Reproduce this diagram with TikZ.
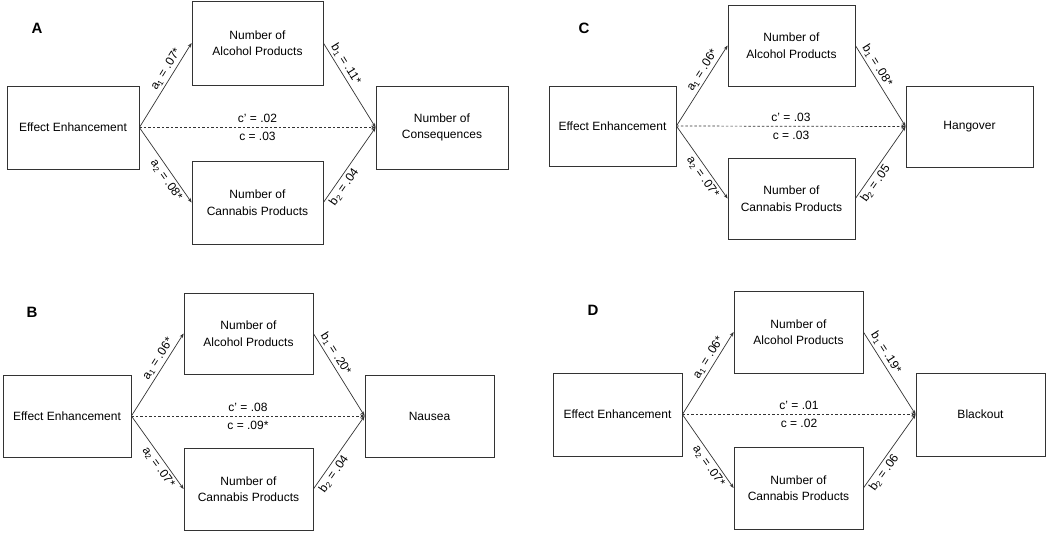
\documentclass[tikz,border=0pt]{standalone}
\usepackage{fontspec}
\setmainfont{Liberation Sans}
\usetikzlibrary{arrows.meta}
\tikzset{
  box/.style={draw=black!80, line width=0.8pt, inner sep=0pt, align=center,
    font=\fontsize{12}{16.5}\selectfont},
  arr/.style={draw=black!80, line width=0.7pt, -{Stealth[length=4.5pt,width=3.5pt]}},
  dline/.style={arr, dash pattern=on 2.5pt off 2pt},
  lbl/.style={font=\fontsize{12}{14}\selectfont, sloped, inner sep=2.5pt},
  clbl/.style={font=\fontsize{12}{14}\selectfont, inner sep=4.5pt},
  plabel/.style={font=\fontsize{15}{15}\selectfont\bfseries}
}
\begin{document}
\begin{tikzpicture}[x=1pt,y=-1pt]
\useasboundingbox (0,0) rectangle (1050,533);

% ---------- Panel A ----------
\node[plabel] (labA) at (37,28) {A};
\node[box, minimum width=132pt, minimum height=83pt] (aL) at (73,127.5) {Effect Enhancement};
\node[box, minimum width=131pt, minimum height=84pt] (aT) at (257.5,43) {Number of\\Alcohol Products};
\node[box, minimum width=131pt, minimum height=83pt] (aB) at (257.5,202.5) {Number of\\Cannabis Products};
\node[box, minimum width=132pt, minimum height=83pt] (aR) at (442,127.5) {Number of\\Consequences};
\draw[arr] (aL.east) -- node[lbl, above, pos=0.64] {a\textsubscript{1} = .07*} (aT.west);
\draw[arr] (aL.east) -- node[lbl, below, pos=0.64] {a\textsubscript{2} = .08*} (aB.west);
\draw[arr] (aT.east) -- node[lbl, above, pos=0.3] {b\textsubscript{1} = .11*} (aR.west);
\draw[arr] (aB.east) -- node[lbl, below, pos=0.27] {b\textsubscript{2} = .04} (aR.west);
\draw[dline] (aL.east) -- node[clbl, above] {c’ = .02} node[clbl, below] {c = .03} (aR.west);

% ---------- Panel C ----------
\node[plabel] (labC) at (584,28) {C};
\node[box, minimum width=127pt, minimum height=80pt] (cL) at (612.5,126) {Effect Enhancement};
\node[box, minimum width=127pt, minimum height=81pt] (cT) at (791.5,45.5) {Number of\\Alcohol Products};
\node[box, minimum width=127pt, minimum height=81pt] (cB) at (791.5,198.5) {Number of\\Cannabis Products};
\node[box, minimum width=127pt, minimum height=81pt] (cR) at (969.5,126.5) {Hangover};
\draw[arr] (cL.east) -- node[lbl, above, pos=0.64] {a\textsubscript{1} = .06*} (cT.west);
\draw[arr] (cL.east) -- node[lbl, below, pos=0.64] {a\textsubscript{2} = .07*} (cB.west);
\draw[arr] (cT.east) -- node[lbl, above, pos=0.3] {b\textsubscript{1} = .08*} (cR.west);
\draw[arr] (cB.east) -- node[lbl, below, pos=0.27] {b\textsubscript{2} = .05} (cR.west);
\draw[dline] (cL.east) -- node[clbl, above] {c’ = .03} node[clbl, below] {c = .03} (cR.west);

% ---------- Panel B ----------
\node[plabel] (labB) at (32,312) {B};
\node[box, minimum width=128pt, minimum height=82pt] (bL) at (67,416) {Effect Enhancement};
\node[box, minimum width=129pt, minimum height=81pt] (bT) at (248.5,333.5) {Number of\\Alcohol Products};
\node[box, minimum width=129pt, minimum height=82pt] (bB) at (248.5,489) {Number of\\Cannabis Products};
\node[box, minimum width=129pt, minimum height=82pt] (bR) at (429.5,416) {Nausea};
\draw[arr] (bL.east) -- node[lbl, above, pos=0.64] {a\textsubscript{1} = .06*} (bT.west);
\draw[arr] (bL.east) -- node[lbl, below, pos=0.64] {a\textsubscript{2} = .07*} (bB.west);
\draw[arr] (bT.east) -- node[lbl, above, pos=0.3] {b\textsubscript{1} = .20*} (bR.west);
\draw[arr] (bB.east) -- node[lbl, below, pos=0.27] {b\textsubscript{2} = .04} (bR.west);
\draw[dline] (bL.east) -- node[clbl, above] {c’ = .08} node[clbl, below] {c = .09*} (bR.west);

% ---------- Panel D ----------
\node[plabel] (labD) at (593,310) {D};
\node[box, minimum width=129pt, minimum height=83pt] (dL) at (617.5,414.5) {Effect Enhancement};
\node[box, minimum width=129pt, minimum height=82pt] (dT) at (798.5,332) {Number of\\Alcohol Products};
\node[box, minimum width=129pt, minimum height=82pt] (dB) at (798.5,488) {Number of\\Cannabis Products};
\node[box, minimum width=129pt, minimum height=83pt] (dR) at (980.5,414.5) {Blackout};
\draw[arr] (dL.east) -- node[lbl, above, pos=0.64] {a\textsubscript{1} = .06*} (dT.west);
\draw[arr] (dL.east) -- node[lbl, below, pos=0.64] {a\textsubscript{2} = .07*} (dB.west);
\draw[arr] (dT.east) -- node[lbl, above, pos=0.3] {b\textsubscript{1} = .19*} (dR.west);
\draw[arr] (dB.east) -- node[lbl, below, pos=0.27] {b\textsubscript{2} = .06} (dR.west);
\draw[dline] (dL.east) -- node[clbl, above] {c’ = .01} node[clbl, below] {c = .02} (dR.west);
\end{tikzpicture}
\end{document}
